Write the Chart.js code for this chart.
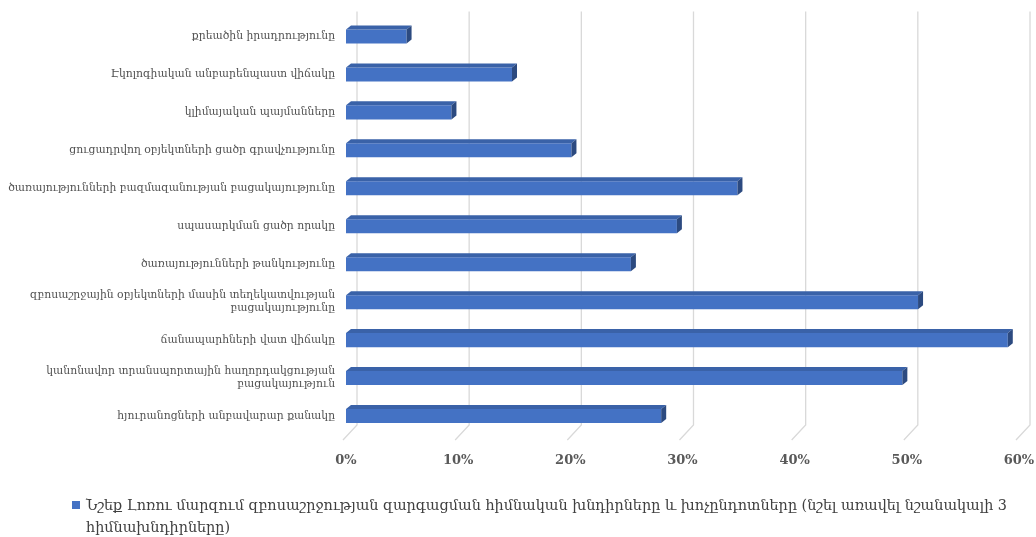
<!DOCTYPE html>
<html lang="hy">
<head>
<meta charset="utf-8">
<title>Լոռու մարզ — զբոսաշրջության խնդիրներ</title>
<script src="https://cdn.jsdelivr.net/npm/chart.js@4"></script>
<style>
  body { margin: 0; background: #fff; }
  #wrap { position: relative; width: 1036px; height: 537px; }
  #legend {
    position: absolute; left: 72px; top: 494px;
    font: 14.4px "DejaVu Serif", serif; color: #404040;
    line-height: 22px; white-space: nowrap;
  }
  #legend .box {
    display: inline-block; width: 8px; height: 8px;
    background: #4472C4; margin-right: 6px; vertical-align: 1px;
  }
  #legend .l2 { padding-left: 14px; }
</style>
</head>
<body>
<div id="wrap">
  <canvas id="chart" width="1036" height="537"></canvas>
  <div id="legend"></div>
</div>
<script>
// Problems named by respondents, top to bottom
const categories = [
    'քրեածին իրադրությունը',
    'Էկոլոգիական անբարենպաստ վիճակը',
    'կլիմայական պայմանները',
    'ցուցադրվող օբյեկտների ցածր գրավչությունը',
    'ծառայությունների բազմազանության բացակայությունը',
    'սպասարկման ցածր որակը',
    'ծառայությունների թանկությունը',
    ['զբոսաշրջային օբյեկտների մասին տեղեկատվության', 'բացակայությունը'],
    'ճանապարհների վատ վիճակը',
    ['կանոնավոր տրանսպորտային հաղորդակցության', 'բացակայություն'],
    'հյուրանոցների անբավարար քանակը'
];
// Share of answers, %
const shares = [5.4, 14.8, 9.4, 20.1, 34.9, 29.5, 25.4, 51.0, 59.0, 49.6, 28.1];
const xTicks = [0, 10, 20, 30, 40, 50, 60];
const seriesName = 'Նշեք Լոռու մարզում զբոսաշրջության զարգացման հիմնական խնդիրները և խոչընդոտները (նշել առավել նշանակալի 3';
const seriesName2 = 'հիմնախնդիրները)';

const barColor = '#4472C4';

// Back-wall gridlines with a slanted floor segment
const wallGrid = {
    id: 'wallGrid',
    beforeDatasetsDraw(chart) {
        const { ctx, chartArea, scales } = chart;
        ctx.save();
        ctx.strokeStyle = '#d9d9d9';
        ctx.lineWidth = 1.3;
        xTicks.forEach(v => {
            const x = scales.x.getPixelForValue(v);
            ctx.beginPath();
            ctx.moveTo(x + 11, chartArea.top - 6);
            ctx.lineTo(x + 11, chartArea.bottom - 10);
            ctx.lineTo(x - 3, chartArea.bottom + 5);
            ctx.stroke();
        });
        ctx.restore();
    }
};

// Top and end faces to give the bars some depth
const barDepth = {
    id: 'barDepth',
    afterDatasetsDraw(chart) {
        const { ctx } = chart;
        const dx = 5, dy = 4;
        ctx.save();
        chart.getDatasetMeta(0).data.forEach(bar => {
            const top = bar.y - bar.height / 2;
            const bottom = bar.y + bar.height / 2;
            ctx.fillStyle = '#3a62a8';
            ctx.beginPath();
            ctx.moveTo(bar.base, top);
            ctx.lineTo(bar.base + dx, top - dy);
            ctx.lineTo(bar.x + dx, top - dy);
            ctx.lineTo(bar.x, top);
            ctx.closePath();
            ctx.fill();
            ctx.fillStyle = '#2c4a80';
            ctx.beginPath();
            ctx.moveTo(bar.x, top);
            ctx.lineTo(bar.x + dx, top - dy);
            ctx.lineTo(bar.x + dx, bottom - dy);
            ctx.lineTo(bar.x, bottom);
            ctx.closePath();
            ctx.fill();
        });
        ctx.restore();
    }
};

const ctx = document.getElementById('chart').getContext('2d');
const chart = new Chart(ctx, {
    type: 'bar',
    data: {
        labels: categories,
        datasets: [{
            label: seriesName + ' ' + seriesName2,
            data: shares,
            backgroundColor: barColor,
            borderWidth: 0,
            barPercentage: 0.37,
            categoryPercentage: 1
        }]
    },
    options: {
        indexAxis: 'y',
        responsive: false,
        animation: false,
        layout: {
            padding: { top: 17, right: 17, bottom: 68, left: 0 }
        },
        scales: {
            x: {
                min: 0,
                max: 60,
                grid: { display: false, drawTicks: false },
                border: { display: false },
                ticks: {
                    stepSize: 10,
                    padding: 18,
                    color: '#595959',
                    font: { family: 'DejaVu Serif', size: 13, weight: 'bold' },
                    callback: v => v + '%'
                },
                afterFit(scale) {
                    scale.height = 34;
                    scale.paddingLeft = 0;
                    scale.paddingRight = 0;
                }
            },
            y: {
                grid: { display: false, drawTicks: false },
                border: { display: false },
                ticks: {
                    padding: 11,
                    color: '#505050',
                    font: { family: 'DejaVu Serif', size: 10.8 },
                    autoSkip: false
                },
                afterFit(scale) { scale.width = 346; }
            }
        },
        plugins: {
            legend: { display: false },
            tooltip: { enabled: false }
        }
    },
    plugins: [wallGrid, barDepth]
});

// Legend text wraps onto a second line
document.getElementById('legend').innerHTML =
    '<span class="box"></span>' + seriesName + '<br><span class="l2">' + seriesName2 + '</span>';
</script>
</body>
</html>
